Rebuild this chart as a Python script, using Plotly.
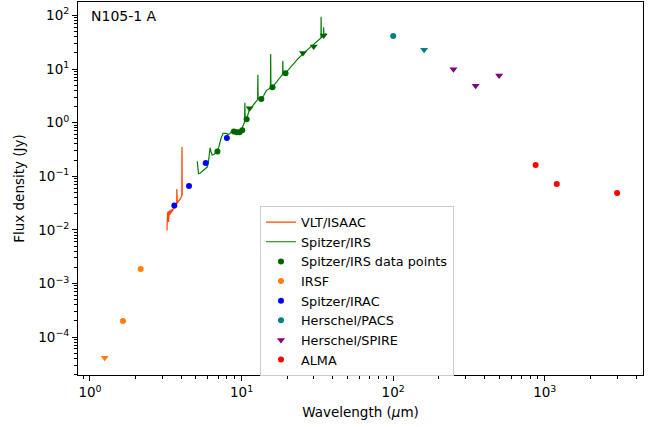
import plotly.graph_objects as go

# ---------------- data ----------------
isaac_wl = [3.22, 3.225, 3.23, 3.235, 3.24, 3.245, 3.25, 3.255, 3.26, 3.265, 3.27, 3.28, 3.285,
            3.29, 3.30, 3.31, 3.32, 3.33, 3.34, 3.36, 3.38, 3.40, 3.42, 3.44, 3.47, 3.50,
            3.53, 3.56, 3.59, 3.62, 3.65, 3.68, 3.71, 3.735, 3.74, 3.745, 3.77, 3.80, 3.83,
            3.86, 3.89, 3.92, 3.95, 3.98, 4.01, 4.035, 4.04, 4.047, 4.052, 4.06, 4.07]
isaac_flux = [0.0097, 0.014, 0.011, 0.017, 0.012, 0.018, 0.021, 0.013, 0.016, 0.020, 0.022, 0.015, 0.021,
              0.019, 0.014, 0.020, 0.017, 0.022, 0.023, 0.019, 0.022, 0.020, 0.024, 0.021, 0.024, 0.022,
              0.025, 0.024, 0.027, 0.025, 0.028, 0.027, 0.030, 0.032, 0.058, 0.034, 0.031, 0.034, 0.033,
              0.036, 0.035, 0.038, 0.037, 0.040, 0.042, 0.044, 0.20, 0.35, 0.051, 0.045, 0.047]

irs_wl = [5.10, 5.14, 5.20, 5.35, 5.55, 5.75, 5.95, 6.05, 6.12, 6.20, 6.28, 6.40, 6.55, 6.75,
          6.93, 7.10, 7.30, 7.55, 7.75, 7.95, 8.15, 8.35, 8.57, 8.80, 9.00, 9.30, 9.60, 9.90,
          10.10, 10.30, 10.46, 10.51, 10.56, 10.80, 11.05, 11.25, 11.50, 11.80, 12.20, 12.55,
          12.76, 12.81, 12.86, 13.20, 13.60, 14.00, 14.60, 15.20, 15.50, 15.56, 15.62, 16.00,
          16.60, 17.20, 17.80, 18.40, 18.65, 18.71, 18.77, 19.50, 20.50, 21.50, 22.50, 23.50,
          24.50, 25.50, 26.50, 27.50, 28.50, 29.60, 30.50, 31.50, 32.50, 33.40, 33.48, 33.56,
          34.20, 34.75, 34.81, 34.87, 35.50, 36.10]
irs_flux = [0.19, 0.14, 0.112, 0.115, 0.125, 0.135, 0.150, 0.19, 0.26, 0.34, 0.29, 0.25, 0.255, 0.27,
            0.29, 0.36, 0.50, 0.63, 0.62, 0.63, 0.60, 0.62, 0.68, 0.70, 0.68, 0.64, 0.66, 0.70,
            0.80, 0.95, 1.02, 2.35, 1.05, 1.15, 1.45, 1.75, 1.85, 2.05, 2.35, 2.60,
            2.70, 7.8, 2.75, 2.80, 2.85, 3.20, 4.0, 4.3, 4.4, 19.0, 4.45, 4.6,
            5.3, 6.0, 6.8, 7.6, 7.8, 14.2, 7.9, 8.4, 10.0, 11.8, 13.5, 15.5,
            17.3, 19.8, 21.5, 23.5, 25.5, 28.0, 30.0, 33.0, 35.5, 38.0, 94.0, 38.5,
            40.5, 41.0, 60.0, 42.0, 44.0, 46.0]

irs_pts_wl = [6.93, 8.9, 9.3, 9.7, 10.1, 10.8, 13.5, 16.0, 19.5]
irs_pts_flux = [0.29, 0.68, 0.66, 0.66, 0.72, 1.16, 2.77, 4.59, 8.38]
irs_lim_wl = [11.3, 25.4, 29.9, 34.8]
irs_lim_flux = [1.85, 19.8, 26.3, 42.0]

irsf_wl = [1.65, 2.16]
irsf_flux = [1.99e-4, 1.87e-3]
irsf_lim_wl = [1.25]
irsf_lim_flux = [4.1e-5]

irac_wl = [3.6, 4.5, 5.8, 8.0]
irac_flux = [0.0286, 0.0656, 0.177, 0.518]

pacs_wl = [100]
pacs_flux = [41.2]
pacs_lim_wl = [160]
pacs_lim_flux = [22.9]

spire_wl = [250, 350, 500]
spire_flux = [9.95, 4.85, 7.56]

alma_wl = [870, 1200, 3000]
alma_flux = [0.162, 0.0715, 0.0485]

x_tickvals = [1, 10, 100, 1000]
x_ticktext = ["10<sup>0</sup>", "10<sup>1</sup>", "10<sup>2</sup>", "10<sup>3</sup>"]
y_tickvals = [1e-4, 1e-3, 1e-2, 1e-1, 1, 10, 100]
y_ticktext = ["10<sup>−4</sup>", "10<sup>−3</sup>", "10<sup>−2</sup>", "10<sup>−1</sup>",
              "10<sup>0</sup>", "10<sup>1</sup>", "10<sup>2</sup>"]

# ---------------- figure ----------------
FONT = "DejaVu Sans"
FS = 13.5

fig = go.Figure()
fig.add_trace(go.Scatter(x=isaac_wl, y=isaac_flux, mode="lines", name="VLT/ISAAC",
                         line=dict(color="#FF4500", width=1.2)))
fig.add_trace(go.Scatter(x=irs_wl, y=irs_flux, mode="lines", name="Spitzer/IRS",
                         line=dict(color="green", width=1.2)))
fig.add_trace(go.Scatter(x=irs_pts_wl, y=irs_pts_flux, mode="markers", name="Spitzer/IRS data points",
                         marker=dict(color="darkgreen", size=6, symbol="circle")))
fig.add_trace(go.Scatter(x=irsf_wl, y=irsf_flux, mode="markers", name="IRSF",
                         marker=dict(color="#ff7f0e", size=6, symbol="circle")))
fig.add_trace(go.Scatter(x=irac_wl, y=irac_flux, mode="markers", name="Spitzer/IRAC",
                         marker=dict(color="blue", size=6, symbol="circle")))
fig.add_trace(go.Scatter(x=pacs_wl, y=pacs_flux, mode="markers", name="Herschel/PACS",
                         marker=dict(color="teal", size=6, symbol="circle")))
fig.add_trace(go.Scatter(x=spire_wl, y=spire_flux, mode="markers", name="Herschel/SPIRE",
                         marker=dict(color="purple", size=7, symbol="triangle-down")))
fig.add_trace(go.Scatter(x=alma_wl, y=alma_flux, mode="markers", name="ALMA",
                         marker=dict(color="red", size=6, symbol="circle")))
# upper limits (not in legend)
fig.add_trace(go.Scatter(x=irs_lim_wl, y=irs_lim_flux, mode="markers", showlegend=False,
                         marker=dict(color="darkgreen", size=7, symbol="triangle-down")))
fig.add_trace(go.Scatter(x=irsf_lim_wl, y=irsf_lim_flux, mode="markers", showlegend=False,
                         marker=dict(color="#ff7f0e", size=7, symbol="triangle-down")))
fig.add_trace(go.Scatter(x=pacs_lim_wl, y=pacs_lim_flux, mode="markers", showlegend=False,
                         marker=dict(color="teal", size=7, symbol="triangle-down")))

x_minor = [m * 10 ** k for k in range(-1, 4) for m in range(2, 10)]
y_minor = [m * 10.0 ** k for k in range(-5, 3) for m in range(2, 10)]

axis_common = dict(
    showline=True, linecolor="black", linewidth=1, mirror=True,
    showgrid=False, zeroline=False, ticks="outside", ticklen=5, tickwidth=1,
    tickcolor="black", tickfont=dict(family=FONT, size=FS, color="black"),
    tickmode="array",
)

fig.update_xaxes(type="log", range=[-0.079, 3.648], tickvals=x_tickvals, ticktext=x_ticktext,
                 title=dict(text="Wavelength (<i>μ</i>m)", font=dict(family=FONT, size=FS, color="black"),
                            standoff=8),
                 minor=dict(tickmode="array", tickvals=x_minor, ticks="outside", ticklen=3,
                            tickcolor="black", showgrid=False),
                 **axis_common)
fig.update_yaxes(type="log", range=[-4.707, 2.25], tickvals=y_tickvals, ticktext=y_ticktext,
                 title=dict(text="Flux density (Jy)", font=dict(family=FONT, size=FS, color="black"),
                            standoff=10),
                 minor=dict(tickmode="array", tickvals=y_minor, ticks="outside", ticklen=3,
                            tickcolor="black", showgrid=False),
                 **axis_common)

fig.add_annotation(text="N105-1 A", xref="paper", yref="paper", x=0.019, y=0.962,
                   xanchor="left", yanchor="middle", showarrow=False,
                   font=dict(family=FONT, size=14, color="black"))

fig.update_layout(
    width=660, height=427,
    margin=dict(l=78, r=17, t=2, b=52),
    paper_bgcolor="white", plot_bgcolor="white",
    font=dict(family=FONT, size=FS, color="black"),
    legend=dict(x=0.3221, y=0.4523, xanchor="left", yanchor="top",
                bgcolor="rgba(255,255,255,0.8)", bordercolor="#cccccc", borderwidth=1,
                font=dict(family=FONT, size=12.8, color="black"), tracegroupgap=0),
    showlegend=True,
)

fig.write_html("out.html")
